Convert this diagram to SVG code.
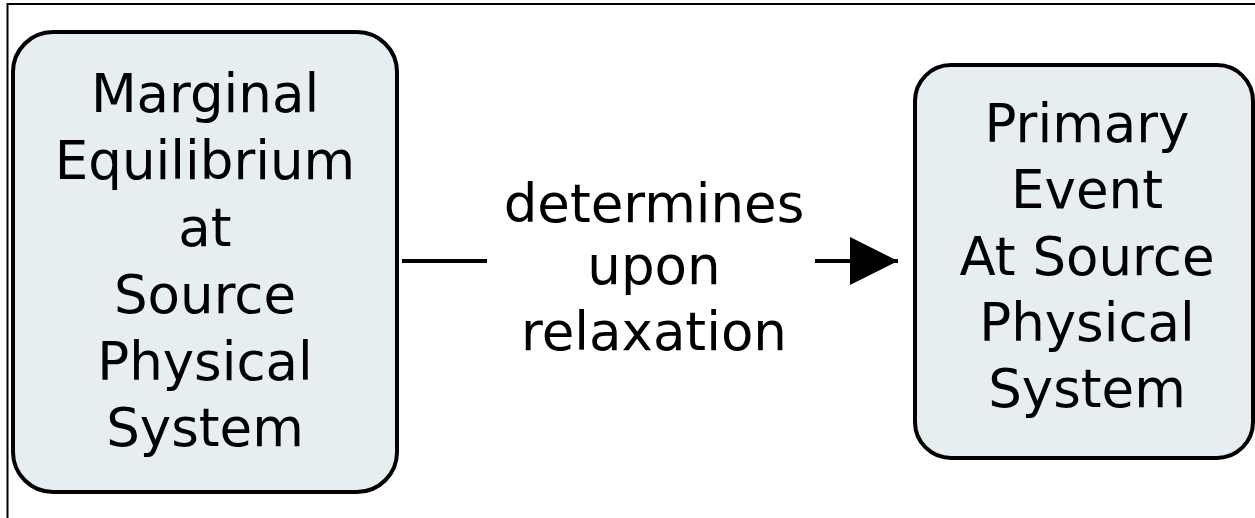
<svg xmlns="http://www.w3.org/2000/svg" width="1255" height="518" viewBox="0 0 1255 518">
<style>
.box{fill:#e7eef2;stroke:#000;stroke-width:4}
.t{font-family:"DejaVu Sans","Verdana",sans-serif;font-size:53px;fill:#000;text-anchor:middle}
.frame{stroke:#000;stroke-width:2;fill:none}
.conn{stroke:#000;stroke-width:4;fill:none}
</style>
<defs>
<marker id="arrow" markerUnits="userSpaceOnUse" markerWidth="50" markerHeight="50" refX="48" refY="24" orient="auto">
<path d="M0,0 L48,24 L0,48 z" fill="#000"/>
</marker>
</defs>
<rect width="1255" height="518" fill="#fff"/>
<path class="frame" d="M7.5,518 V4 H1255"/>
<g id="node-marginal">
<rect class="box" x="13" y="32" width="384" height="460" rx="40" ry="40"/>
<text class="t" x="205" y="112">Marginal</text>
<text class="t" x="205" y="179">Equilibrium</text>
<text class="t" x="205" y="246">at</text>
<text class="t" x="205" y="313">Source</text>
<text class="t" x="205" y="380">Physical</text>
<text class="t" x="205" y="446">System</text>
</g>
<g id="node-primary">
<rect class="box" x="915" y="65" width="338" height="393" rx="36" ry="36"/>
<text class="t" x="1087" y="142">Primary</text>
<text class="t" x="1087" y="208">Event</text>
<text class="t" x="1087" y="275">At Source</text>
<text class="t" x="1087" y="341">Physical</text>
<text class="t" x="1087" y="407">System</text>
</g>
<g id="connectors">
<path class="conn" d="M402,261 H487 M815,261 H898" marker-end="url(#arrow)"/>
<text class="t" x="654" y="222">determines</text>
<text class="t" x="654" y="284">upon</text>
<text class="t" x="654" y="350">relaxation</text>
</g>
</svg>
